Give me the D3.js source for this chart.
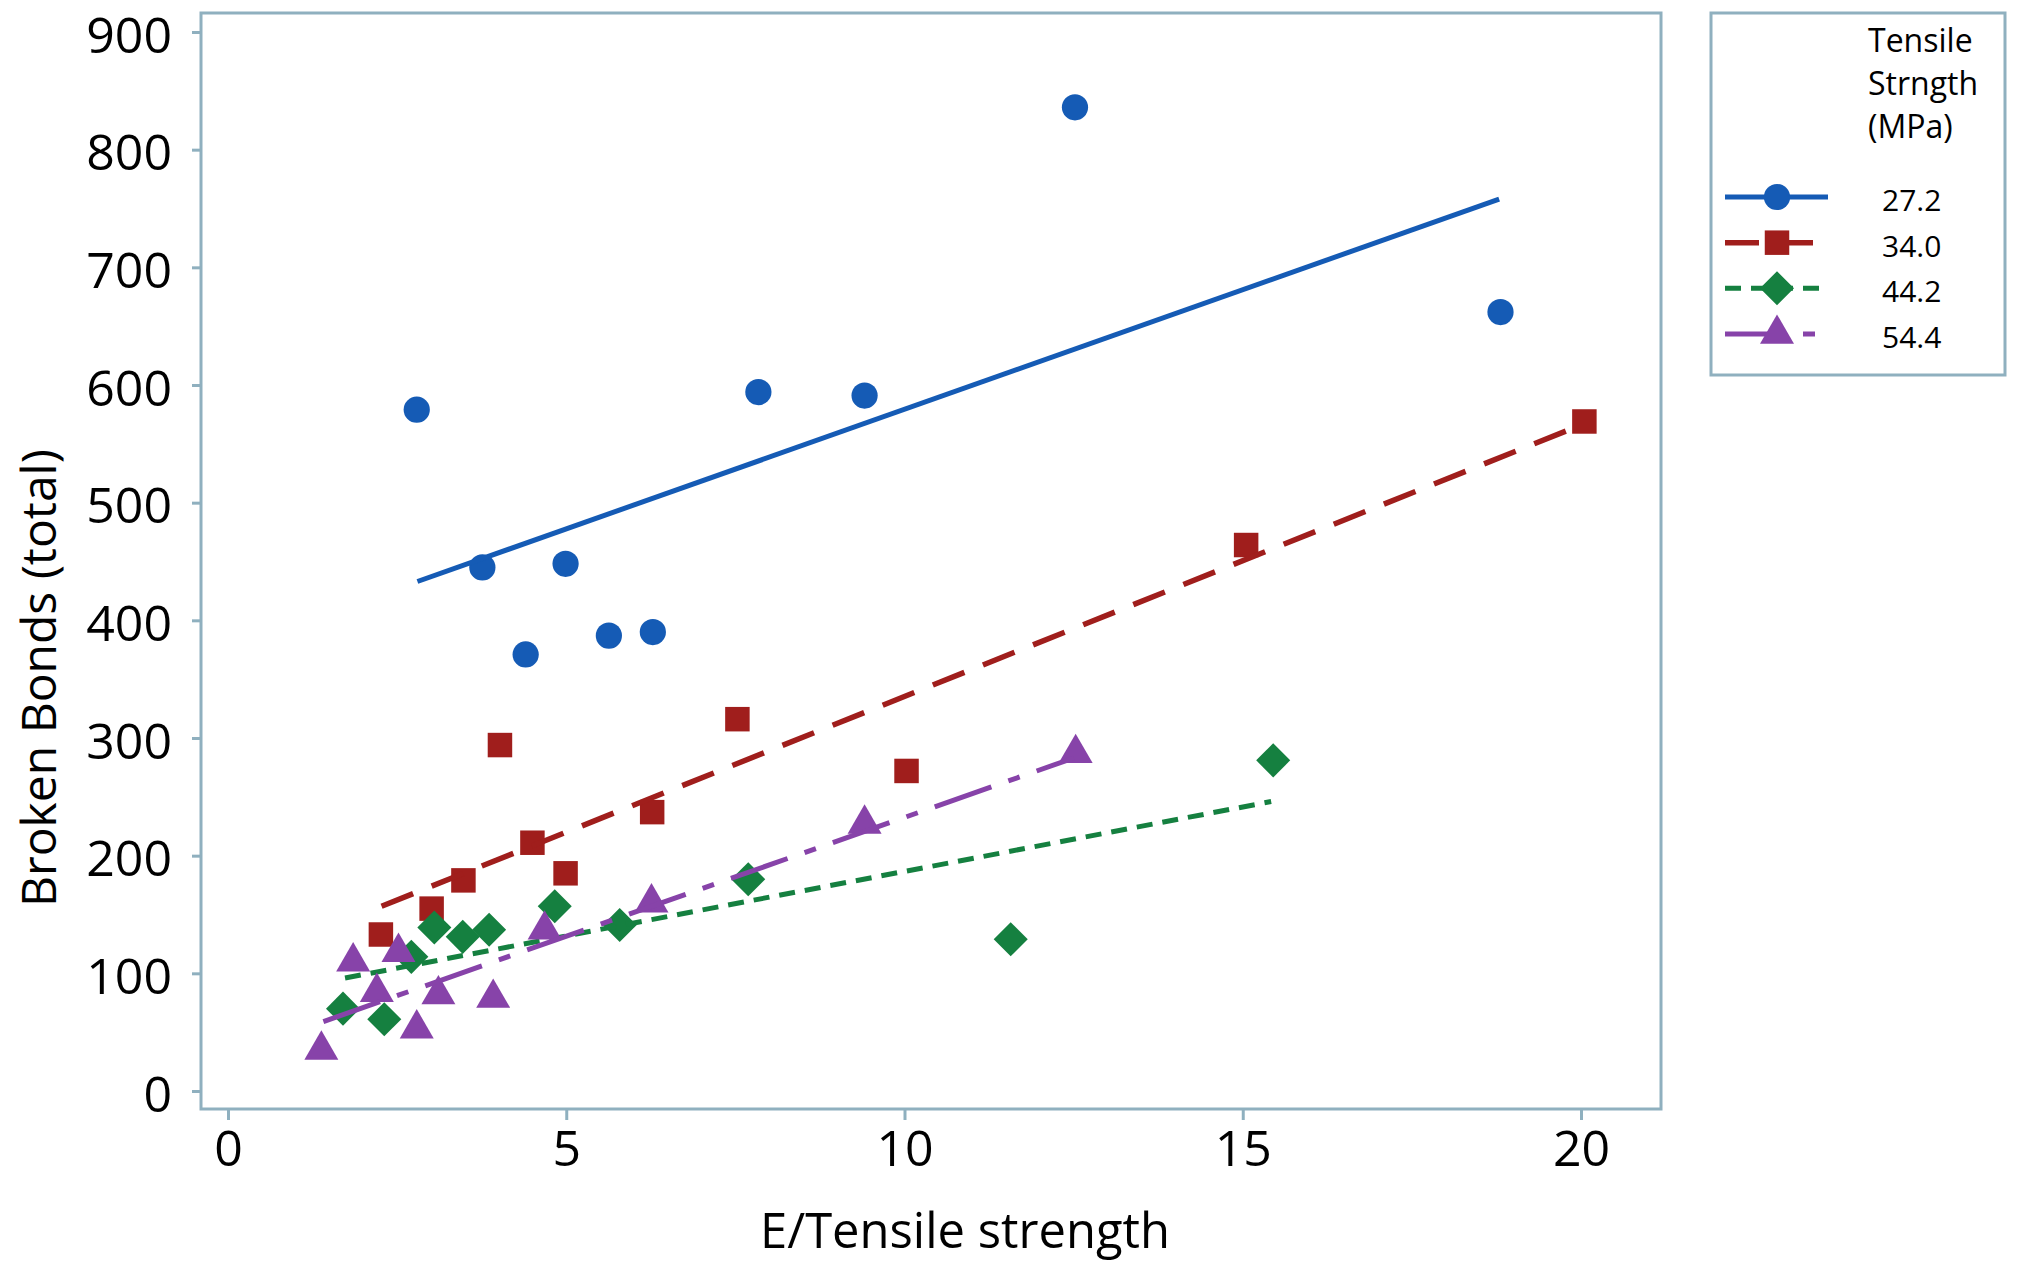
<!DOCTYPE html>
<html>
<head>
<meta charset="utf-8">
<script src="https://cdn.jsdelivr.net/npm/d3@7"></script>
<style>
  html, body { margin: 0; padding: 0; background: #ffffff; }
  svg { display: block; }
</style>
</head>
<body>
<svg id="chart" width="2028" height="1265"></svg>
<script>
// ---------------- data ----------------
const xTickValues = [0, 5, 10, 15, 20];
const yTickValues = [0, 100, 200, 300, 400, 500, 600, 700, 800, 900];

const seriesNames = ["27.2", "34.0", "44.2", "54.4"];
const legendTitle = ["Tensile", "Strngth", "(MPa)"];
const xTitle = "E/Tensile strength";
const yTitle = "Broken Bonds (total)";

// 27.2 MPa
const ts272X = [2.79, 3.76, 4.40, 4.99, 5.63, 6.28, 7.84, 9.41, 12.52, 18.81];
const ts272Y = [579, 445, 371, 448, 387, 390, 594, 591, 836, 662];
const fit272X = [2.80, 18.79];
const fit272Y = [433, 758];

// 34.0 MPa
const ts340X = [2.26, 3.01, 3.48, 4.02, 4.50, 4.99, 6.27, 7.53, 10.03, 15.05, 20.05];
const ts340Y = [133, 155, 179, 294, 211, 185, 237, 316, 272, 464, 569];
const fit340X = [2.27, 20.0];
const fit340Y = [157, 566];

// 44.2 MPa
const ts442X = [1.70, 2.31, 2.71, 3.05, 3.47, 3.86, 4.83, 5.79, 7.69, 11.57, 15.45];
const ts442Y = [70, 61, 114, 139, 131, 137, 157, 141, 180, 129, 281];
const fit442X = [1.73, 15.42];
const fit442Y = [96, 246];

// 54.4 MPa
const ts544X = [1.38, 1.85, 2.20, 2.52, 2.79, 3.11, 3.92, 4.68, 6.26, 9.41, 12.53];
const ts544Y = [35, 110, 84, 118, 53, 82, 79, 137, 160, 227, 287];
const fit544X = [1.41, 12.5];
const fit544Y = [59, 283];

// ---------------- styling ----------------
const FONT = "'Open Sans', 'DejaVu Sans', sans-serif";
const frameColor = "#8fb0bf";
const styles = [
  { color: "#155bb5", dash: null,           width: 5,   symbol: d3.symbolCircle,   size: 540, rotate: 0 },
  { color: "#a01e1c", dash: "34,20",        width: 5.5, symbol: d3.symbolSquare,   size: 600, rotate: 0 },
  { color: "#158040", dash: "16,10",        width: 5,   symbol: d3.symbolSquare,   size: 580, rotate: 45 },
  { color: "#8743a9", dash: "60,18,12,18",  width: 5,   symbol: d3.symbolTriangle, size: 500, rotate: 0 }
];

const seriesData = [
  { name: seriesNames[0], xs: ts272X, ys: ts272Y, fx: fit272X, fy: fit272Y },
  { name: seriesNames[1], xs: ts340X, ys: ts340Y, fx: fit340X, fy: fit340Y },
  { name: seriesNames[2], xs: ts442X, ys: ts442Y, fx: fit442X, fy: fit442Y },
  { name: seriesNames[3], xs: ts544X, ys: ts544Y, fx: fit544X, fy: fit544Y }
];

// ---------------- layout ----------------
const svg = d3.select("#chart");
const frame = { left: 201, top: 13, right: 1661, bottom: 1109 };

const x = d3.scaleLinear().domain([0, 20]).range([228, 1581]);
const y = d3.scaleLinear().domain([0, 900]).range([1091, 32]);

// frame
svg.append("rect")
  .attr("x", frame.left).attr("y", frame.top)
  .attr("width", frame.right - frame.left)
  .attr("height", frame.bottom - frame.top)
  .attr("fill", "none")
  .attr("stroke", frameColor)
  .attr("stroke-width", 3);

// y axis
const yAxis = svg.append("g")
  .attr("transform", `translate(${frame.left},0)`)
  .call(d3.axisLeft(y).tickValues(yTickValues).tickSize(9).tickPadding(20));
yAxis.select(".domain").remove();
yAxis.selectAll(".tick line").attr("stroke", frameColor).attr("stroke-width", 3);
yAxis.selectAll(".tick text")
  .attr("font-family", FONT).attr("font-size", 50).attr("fill", "#000")
  .attr("dy", "0.40em");

// x axis
const xAxis = svg.append("g")
  .attr("transform", `translate(0,${frame.bottom})`)
  .call(d3.axisBottom(x).tickValues(xTickValues).tickSize(11).tickPadding(10));
xAxis.select(".domain").remove();
xAxis.selectAll(".tick line").attr("stroke", frameColor).attr("stroke-width", 3);
xAxis.selectAll(".tick text")
  .attr("font-family", FONT).attr("font-size", 50).attr("fill", "#000");

// axis titles
svg.append("text")
  .attr("x", 965).attr("y", 1248)
  .attr("text-anchor", "middle")
  .attr("font-family", FONT).attr("font-size", 50)
  .attr("textLength", 410).attr("lengthAdjust", "spacingAndGlyphs")
  .text(xTitle);

svg.append("text")
  .attr("transform", "translate(56,678) rotate(-90)")
  .attr("text-anchor", "middle")
  .attr("font-family", FONT).attr("font-size", 48)
  .text(yTitle);

// series
const line = d3.line().x(d => x(d[0])).y(d => y(d[1]));

seriesData.forEach((s, i) => {
  const st = styles[i];
  const g = svg.append("g").attr("class", "series-" + i);
  const pts = s.xs.map((v, k) => [v, s.ys[k]]);
  g.selectAll("path.marker")
    .data(pts)
    .enter().append("path")
    .attr("class", "marker")
    .attr("d", d3.symbol().type(st.symbol).size(st.size))
    .attr("transform", d => `translate(${x(d[0])},${y(d[1])}) rotate(${st.rotate})`)
    .attr("fill", st.color);
  const fitPts = s.fx.map((v, k) => [v, s.fy[k]]);
  g.append("path")
    .datum(fitPts)
    .attr("d", line)
    .attr("fill", "none")
    .attr("stroke", st.color)
    .attr("stroke-width", st.width)
    .attr("stroke-dasharray", st.dash);
});

// legend
const lg = svg.append("g").attr("class", "legend");
lg.append("rect")
  .attr("x", 1711).attr("y", 13).attr("width", 294).attr("height", 362)
  .attr("fill", "#fff").attr("stroke", frameColor).attr("stroke-width", 3);

legendTitle.forEach((t, i) => {
  lg.append("text")
    .attr("x", 1868).attr("y", 52 + i * 43)
    .attr("font-family", FONT).attr("font-size", 32).attr("fill", "#000")
    .text(t);
});

const legendY = d3.scaleLinear().domain([0, 3]).range([197, 334]);
const legendLineEnds = [1828, 1813, 1823, 1816];
seriesData.forEach((s, i) => {
  const st = styles[i];
  const ly = legendY(i);
  lg.append("line")
    .attr("x1", 1725).attr("x2", legendLineEnds[i])
    .attr("y1", ly).attr("y2", ly)
    .attr("stroke", st.color).attr("stroke-width", st.width)
    .attr("stroke-dasharray", st.dash);
  lg.append("path")
    .attr("d", d3.symbol().type(st.symbol).size(st.size))
    .attr("transform", `translate(1777,${ly}) rotate(${st.rotate})`)
    .attr("fill", st.color);
  lg.append("text")
    .attr("x", 1882).attr("y", ly + 14)
    .attr("font-family", FONT).attr("font-size", 30).attr("fill", "#000")
    .text(s.name);
});
</script>
</body>
</html>
